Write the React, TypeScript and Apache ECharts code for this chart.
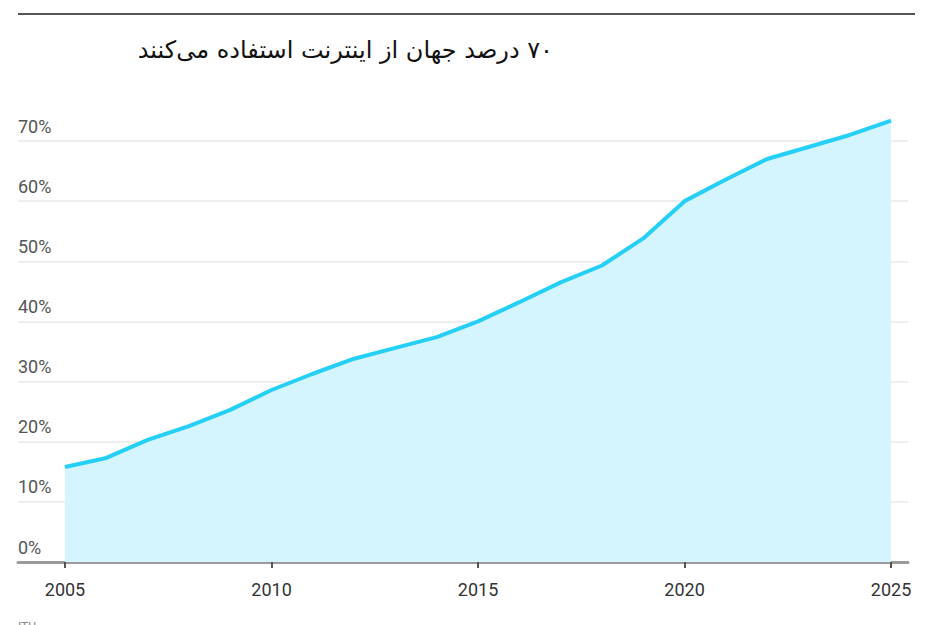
import React, { useEffect, useRef } from "react";
import * as echarts from "echarts";

const years = [2005, 2006, 2007, 2008, 2009, 2010, 2011, 2012, 2013, 2014, 2015, 2016, 2017, 2018, 2019, 2020, 2021, 2022, 2023, 2024, 2025];
const internetShare = [15.8, 17.3, 20.3, 22.6, 25.3, 28.6, 31.3, 33.8, 35.6, 37.4, 40.0, 43.2, 46.5, 49.3, 53.8, 60.0, 63.6, 67.0, 69.0, 71.0, 73.4];
const xTickYears = [2005, 2010, 2015, 2020, 2025];
const titleText = "\u202B۷۰ درصد جهان از اینترنت استفاده می\u200cکنند\u202C";
const sourceText = "ITU";

export default function App() {
  const ref = useRef<HTMLDivElement>(null);
  useEffect(() => {
    document.body.style.margin = "0";
    const chart = echarts.init(ref.current!, null, { renderer: "svg" });
    chart.setOption({
      animation: false,
      backgroundColor: "#ffffff",
      grid: { left: 18, right: 30, top: 141, bottom: 63, containLabel: false },
      xAxis: {
        type: "value",
        min: 2003.862,
        max: 2025.41,
        axisLine: { show: true, lineStyle: { color: "#9a9a9a", width: 3 } },
        axisTick: {
          show: true,
          customValues: xTickYears,
          length: 6,
          lineStyle: { color: "#555555", width: 2 },
        },
        axisLabel: {
          customValues: xTickYears,
          formatter: (v: number) => String(v),
          color: "#333333",
          fontSize: 18,
          fontFamily: "Roboto",
          margin: 18,
        },
        splitLine: { show: false },
      },
      yAxis: {
        type: "value",
        min: 0,
        max: 70,
        interval: 10,
        axisLine: { show: false },
        axisTick: { show: false },
        axisLabel: {
          inside: true,
          margin: 0,
          formatter: (v: number) => v + "%",
          color: "#555555",
          fontSize: 18,
          fontFamily: "Roboto",
          verticalAlign: "bottom",
          padding: [0, 0, 6, 0],
        },
        splitLine: { show: true, lineStyle: { color: "#eeeeee", width: 2 } },
      },
      series: [
        {
          type: "line",
          data: years.map((y, i) => [y, internetShare[i]]),
          showSymbol: false,
          clip: false,
          lineStyle: { color: "#26cff6", width: 4 },
          areaStyle: { color: "#d4f5fd", opacity: 1 },
          z: 3,
        },
      ],
      graphic: [
        {
          type: "line",
          shape: { x1: 18, y1: 14, x2: 915, y2: 14 },
          style: { stroke: "#555555", lineWidth: 2 },
        },
        {
          type: "text",
          x: 553,
          y: 50,
          style: {
            text: titleText,
            fill: "#111111",
            fontSize: 24,
            fontFamily: "DejaVu Sans",
            align: "right",
            verticalAlign: "middle",
          },
        },
        {
          type: "text",
          x: 18,
          y: 621,
          style: {
            text: sourceText,
            fill: "#888888",
            fontSize: 12,
            fontFamily: "Roboto",
            align: "left",
            verticalAlign: "top",
          },
        },
      ],
    });
    return () => chart.dispose();
  }, []);
  return <div ref={ref} style={{ width: 938, height: 625 }} />;
}
